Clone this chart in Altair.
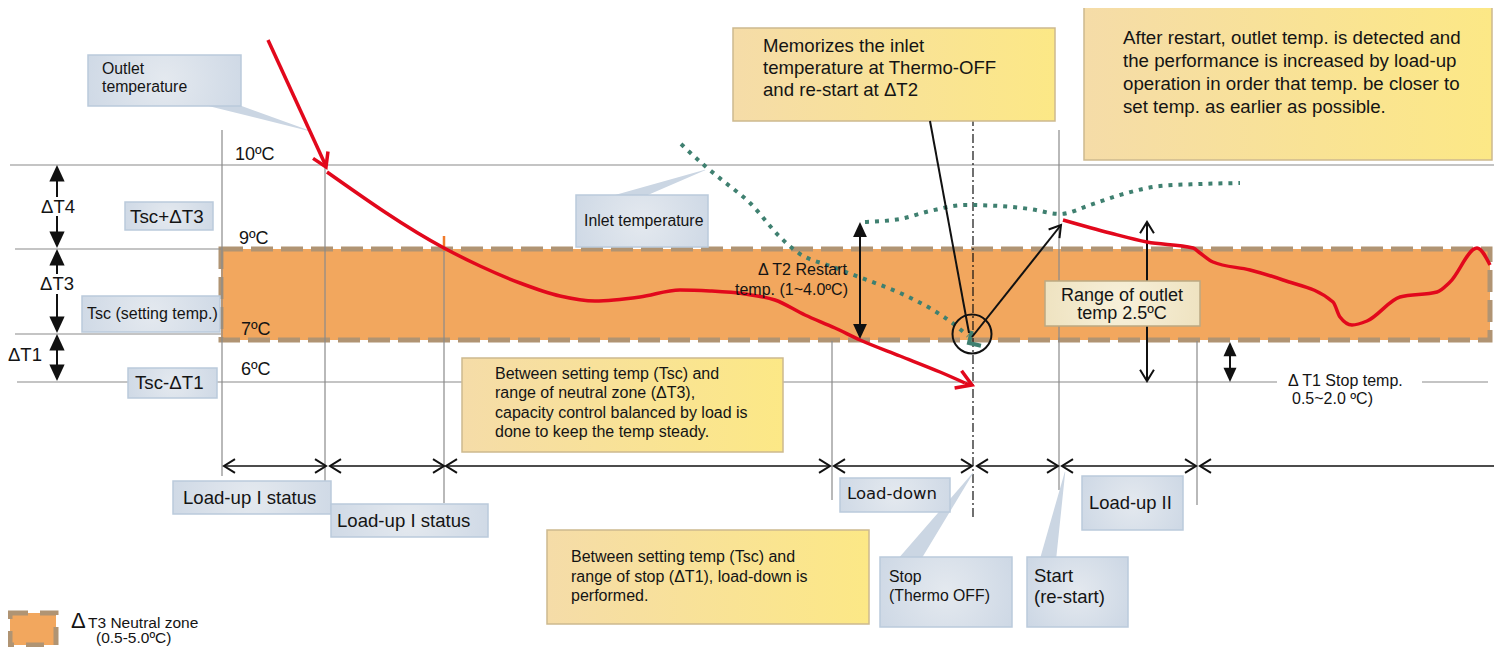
import math
import altair as alt
import pandas as pd

# ---------------------------------------------------------------------------
# Data (units = reference pixels)
# ---------------------------------------------------------------------------
W, H = 1486, 639

# temperature guide lines (10ºC, 9ºC, 7ºC, 6ºC, 6ºC right part)
guide_x1 = [10, 15, 15, 17, 1422]
guide_x2 = [1494, 221, 221, 1277, 1488]
guide_y = [165, 249, 334, 382, 382]

# vertical phase markers
mark_x = [222, 325, 444, 832, 1059, 1197]
mark_y1 = [130, 167, 236, 341, 130, 341]
mark_y2 = [476, 481, 503, 500, 490, 505]

# Thermo-OFF dash-dot line
off_x = [973]
off_y1 = [100]
off_y2 = [520]

# neutral zone band and legend swatch
zone_x1 = [221]
zone_x2 = [1490]
zone_y1 = [249]
zone_y2 = [340]
swatch_x1 = [10]
swatch_x2 = [56]
swatch_y1 = [613]
swatch_y2 = [645]

# blue label boxes
blue_x1 = [88, 125, 82, 128, 576, 173, 331, 840, 1082, 880, 1027]
blue_x2 = [241, 213, 220, 217, 708, 331, 488, 950, 1183, 1012, 1128]
blue_y1 = [55, 202, 296, 368, 195, 481, 504, 478, 476, 557, 557]
blue_y2 = [106, 230, 332, 398, 247, 514, 537, 512, 530, 627, 627]

# callout pointers (base inside box -> tip)
ptr_id = [0, 0, 1, 1, 2, 2, 3, 3]
ptr_i = [0, 1, 0, 1, 0, 1, 0, 1]
ptr_x = [205, 310, 612, 705, 906, 973, 1047, 1065]
ptr_y = [99, 131, 203, 170, 565, 473, 565, 472]
ptr_w = [12, 0.5, 14, 0.5, 20, 0.5, 17, 0.5]

# yellow note boxes
yel_x1 = [733, 1084, 462, 547]
yel_x2 = [1055, 1492, 783, 869]
yel_y1 = [28, 7, 358, 530]
yel_y2 = [121, 160, 452, 624]

# beige "range" box
beige_x1 = [1045]
beige_x2 = [1200]
beige_y1 = [281]
beige_y2 = [326]

# outlet temperature curves (red)
out1_x = [327, 444, 480, 520, 560, 595, 640, 680, 710, 745, 775, 805, 835, 860, 900, 940, 965]
out1_y = [172, 248, 266, 283, 296, 301, 297, 290, 291, 294, 300, 315, 328, 340, 356, 372, 383]
out2_x = [1063, 1110, 1147, 1193, 1200, 1213, 1250, 1283, 1333, 1340, 1352, 1367, 1400, 1437, 1450, 1477, 1490]
out2_y = [220, 233, 242, 248, 253, 262, 270, 280, 302, 317, 325, 321, 297, 292, 282, 248, 265]
# first straight red arrow (start, tip) and the second arrow's tip
red_arrow_x = [268, 326]
red_arrow_y = [40, 167]
red2_tip_x, red2_tip_y = 972, 385

# inlet temperature curves (green dotted)
in1_x = [681, 705, 722, 750, 780, 797, 833, 867, 900, 933, 955, 968]
in1_y = [144, 166, 180, 203, 237, 252, 267, 280, 293, 310, 325, 336]
in2_x = [865, 900, 930, 965, 1000, 1030, 1060, 1090, 1120, 1160, 1200, 1240]
in2_y = [222, 219, 211, 205, 206, 209, 214, 205, 195, 186, 184, 183]

# black straight lines: memorize pointer, restart arrow
blk_x1 = [930, 972]
blk_y1 = [121, 337]
blk_x2 = [969, 1061]
blk_y2 = [333, 225]

# circle at Thermo-OFF point
circ_x = [972]
circ_y = [334]

# time-phase arrows
time_y = 466
time_a = [224, 330, 446, 834, 977, 1062, 1200]
time_b = [326, 444, 830, 972, 1058, 1196, 1494]

# vertical double arrows with filled heads: x, top, bottom, head size
dbl_x = [57, 57, 57, 860, 1230]
dbl_top = [165, 249, 334, 222, 342]
dbl_bot = [248, 333, 381, 339, 382]
dbl_size = [1100, 1100, 1100, 900, 800]
# shafts (with gaps for labels)
shaft_x = [57, 57, 57, 57, 57, 860, 1230]
shaft_y1 = [180, 216, 264, 294, 348, 236, 356]
shaft_y2 = [197, 232, 274, 318, 366, 326, 368]

# range arrow (open heads)
rng_x = [1147]
rng_top = [222]
rng_bot = [381]

# texts (left aligned)
tl_text = ["Outlet", "temperature", "Tsc+ΔT3", "Tsc (setting temp.)", "Tsc-ΔT1",
           "10ºC", "9ºC", "7ºC", "6ºC", "Inlet temperature",
           "Memorizes the inlet", "temperature at Thermo-OFF", "and re-start at ΔT2",
           "After restart, outlet temp. is detected and",
           "the performance is increased  by load-up",
           "operation in order that temp. be closer to",
           "set temp. as earlier as possible.",
           "Between setting temp (Tsc) and", "range of neutral zone (ΔT3),",
           "capacity control balanced by load is", "done to keep the temp steady.",
           "Load-up I status", "Load-up I status", "Load-up II",
           "Between setting temp (Tsc) and", "range of stop (ΔT1), load-down is", "performed.",
           "Stop", "(Thermo OFF)", "Start", "(re-start)",
           "Δ T1 Stop temp.", " 0.5~2.0 ºC)",
           "Δ", "T3 Neutral zone", "(0.5-5.0ºC)", "ΔT1"]
tl_x = [102, 102, 130, 87, 135,
        235, 239, 241, 241, 584,
        763, 763, 763,
        1123, 1123, 1123, 1123,
        495, 495, 495, 495,
        183, 337, 1089,
        571, 571, 571,
        889, 889, 1034, 1034,
        1288, 1292,
        71, 88, 96, 8]
tl_y = [69, 87, 217, 314, 383,
        155, 239, 330, 370, 221,
        46, 68, 90,
        38, 61, 84, 107,
        374, 393, 413, 432,
        498, 521, 503,
        557, 577, 596,
        577, 596, 576, 597,
        381, 399,
        621, 623, 638, 355]
tl_fs = [15.8, 15.8, 18.8, 16, 18.7,
         18, 18, 18, 18, 15.8,
         18.6, 18.6, 18.6,
         18.7, 18.7, 18.7, 18.7,
         16, 16, 16, 16,
         18.6, 18.6, 18.4,
         16, 16, 16,
         15.8, 15.8, 18.5, 18.5,
         16, 16,
         22, 15.5, 15.5, 18.5]

# texts (centered)
tc_text = ["ΔT4", "ΔT3", "Range of outlet", "temp 2.5ºC"]
tc_x = [58, 57, 1122, 1122]
tc_y = [207, 284, 296, 314]
tc_fs = [18.5, 18.5, 18, 18]

# texts (right aligned)
tr_text = ["Δ T2 Restart", "temp. (1~4.0ºC)"]
tr_x = [847, 848]
tr_y = [270, 290]
tr_fs = [16, 16]

# letter-spaced label
ts_text = ["Load-down"]
ts_x = [847]
ts_y = [494]
ts_fs = [16.5]

# ---------------------------------------------------------------------------
XS = alt.Scale(domain=[8, 8 + W], nice=False, zero=False)
YS = alt.Scale(domain=[8, 8 + H], reverse=True, nice=False, zero=False)


def X(f):
    return alt.X(f + ":Q", scale=XS, axis=None)


def Y(f):
    return alt.Y(f + ":Q", scale=YS, axis=None)


def seg_df(x1, y1, x2, y2):
    return pd.DataFrame({"x1": x1, "y1": y1, "x2": x2, "y2": y2})


def rules(df, **kw):
    return alt.Chart(df).mark_rule(**kw).encode(
        x=X("x1"), x2="x2:Q", y=Y("y1"), y2="y2:Q")


def rects(df, **kw):
    return alt.Chart(df).mark_rect(**kw).encode(
        x=X("x1"), x2="x2:Q", y=Y("y1"), y2="y2:Q")


def heads(df, shape, **kw):
    return alt.Chart(df).mark_point(shape=shape, opacity=1, **kw).encode(
        x=X("x"), y=Y("y"),
        angle=alt.Angle("a:Q", scale=None),
        size=alt.Size("sz:Q", scale=None))


def curves(df, **kw):
    return alt.Chart(df).mark_line(**kw).encode(
        x=X("x"), y=Y("y"), detail="s:N", order="i:Q")


def texts(df, align, font="Liberation Sans"):
    return alt.Chart(df).mark_text(
        align=align, baseline="middle", font=font, color="#141414").encode(
        x=X("x"), y=Y("y"), text="t:N", size=alt.Size("fs:Q", scale=None))


def ang(x1, y1, x2, y2):
    return math.degrees(math.atan2(y2 - y1, x2 - x1)) % 360


CHEV = "M-1,-0.62L0,0L-1,0.62"
TRI = "M0,0L-1,-0.46L-1,0.46Z"

blue_fill = alt.RadialGradient(
    gradient="radial",
    stops=[alt.GradientStop(color="#E4E9EF", offset=0),
           alt.GradientStop(color="#C7D3E2", offset=1)],
    x1=0.5, y1=0.5, r1=0, x2=0.5, y2=0.5, r2=0.72)
yel_fill = alt.LinearGradient(
    gradient="linear",
    stops=[alt.GradientStop(color="#F5DCA8", offset=0),
           alt.GradientStop(color="#FCE886", offset=1)],
    x1=0, y1=0, x2=1, y2=0)
beige_fill = alt.RadialGradient(
    gradient="radial",
    stops=[alt.GradientStop(color="#F7F0DA", offset=0),
           alt.GradientStop(color="#EBDDB6", offset=1)],
    x1=0.5, y1=0.5, r1=0, x2=0.5, y2=0.5, r2=0.72)

RED = "#E2081C"
GREEN = "#3F8070"
GRAY = "#8A8A8A"

layers = []

# neutral zone band + legend swatch
layers.append(rects(seg_df(zone_x1, zone_y1, zone_x2, zone_y2),
                    fill="#F2A75E", stroke="#B09473", strokeWidth=5,
                    strokeDash=[22, 8]))
layers.append(rects(seg_df(swatch_x1, swatch_y1, swatch_x2, swatch_y2),
                    fill="#F2A75E", stroke="#B09473", strokeWidth=5,
                    strokeDash=[18, 12]))

# guide lines
layers.append(rules(seg_df(guide_x1, guide_y, guide_x2, guide_y),
                    color=GRAY, strokeWidth=1.2))
layers.append(rules(seg_df(mark_x, mark_y1, mark_x, mark_y2),
                    color=GRAY, strokeWidth=1.2))
layers.append(rules(seg_df(off_x, off_y1, off_x, off_y2),
                    color="#111111", strokeWidth=1.2, strokeDash=[9, 3, 2, 3]))
layers.append(alt.Chart(pd.DataFrame({"x1": [444], "y1": [236], "x2": [444], "y2": [251]}))
              .mark_rule(color="#F07A2A", strokeWidth=2.5)
              .encode(x=X("x1"), x2="x2:Q", y=Y("y1"), y2="y2:Q"))

# time-phase arrows
layers.append(rules(seg_df(time_a, [time_y] * len(time_a), time_b, [time_y] * len(time_b)),
                    color="#111111", strokeWidth=1.5))
th_x, th_a = [], []
for k, (a, b) in enumerate(zip(time_a, time_b)):
    th_x.append(a)
    th_a.append(180)
    if k < len(time_a) - 1:
        th_x.append(b)
        th_a.append(0)
layers.append(heads(pd.DataFrame({"x": th_x, "y": [time_y] * len(th_x), "a": th_a,
                                  "sz": [484] * len(th_x)}),
                    CHEV, filled=False, color="#111111", strokeWidth=2))

# vertical double arrows (filled heads)
layers.append(rules(seg_df(shaft_x, shaft_y1, shaft_x, shaft_y2),
                    color="#111111", strokeWidth=2))
hx, hy, ha, hs = [], [], [], []
for x, t, b, s in zip(dbl_x, dbl_top, dbl_bot, dbl_size):
    hx += [x, x]
    hy += [t, b]
    ha += [270, 90]
    hs += [s, s]
layers.append(heads(pd.DataFrame({"x": hx, "y": hy, "a": ha, "sz": hs}),
                    TRI, filled=True, color="#111111"))

# range arrow (open heads)
layers.append(rules(seg_df(rng_x, rng_top, rng_x, rng_bot),
                    color="#111111", strokeWidth=2))
layers.append(heads(pd.DataFrame({"x": rng_x * 2, "y": rng_top + rng_bot, "a": [270, 90],
                                  "sz": [500, 500]}),
                    CHEV, filled=False, color="#111111", strokeWidth=2))

# callout pointers
layers.append(alt.Chart(pd.DataFrame({"id": ptr_id, "i": ptr_i, "x": ptr_x, "y": ptr_y,
                                      "w": ptr_w}))
              .mark_trail(color="#CBD6E3", opacity=1)
              .encode(x=X("x"), y=Y("y"), detail="id:N", order="i:Q",
                      size=alt.Size("w:Q", scale=None)))

# boxes
layers.append(rects(seg_df(blue_x1, blue_y1, blue_x2, blue_y2),
                    fill=blue_fill, stroke="#BACADB", strokeWidth=1.5))
layers.append(rects(seg_df(yel_x1, yel_y1, yel_x2, yel_y2),
                    fill=yel_fill, stroke="#CDB98E", strokeWidth=1.5))
layers.append(rects(seg_df(beige_x1, beige_y1, beige_x2, beige_y2),
                    fill=beige_fill, stroke="#BCA983", strokeWidth=1.5))

# inlet temperature (green dotted)
in_df = pd.DataFrame({
    "x": in1_x + in2_x, "y": in1_y + in2_y,
    "s": ["a"] * len(in1_x) + ["b"] * len(in2_x),
    "i": list(range(len(in1_x))) + list(range(len(in2_x)))})
layers.append(curves(in_df, color=GREEN, strokeWidth=4, strokeDash=[4, 6],
                     interpolate="monotone"))
layers.append(heads(pd.DataFrame({"x": [969], "y": [343], "a": [148], "sz": [300]}),
                    "M-1,-1L0,0L-1,1", filled=False, color=GREEN, strokeWidth=4))

# outlet temperature (red)
layers.append(rules(seg_df([red_arrow_x[0]], [red_arrow_y[0]],
                           [red_arrow_x[1] - 1], [red_arrow_y[1] - 3]),
                    color=RED, strokeWidth=3.5))
out_df = pd.DataFrame({
    "x": out1_x + out2_x, "y": out1_y + out2_y,
    "s": ["a"] * len(out1_x) + ["b"] * len(out2_x),
    "i": list(range(len(out1_x))) + list(range(len(out2_x)))})
layers.append(curves(out_df, color=RED, strokeWidth=3.5, interpolate="monotone"))
layers.append(heads(pd.DataFrame({
    "x": [red_arrow_x[1], red2_tip_x],
    "y": [red_arrow_y[1], red2_tip_y],
    "a": [ang(red_arrow_x[0], red_arrow_y[0], red_arrow_x[1], red_arrow_y[1]),
          ang(out1_x[-4], out1_y[-4], red2_tip_x, red2_tip_y)],
    "sz": [700, 900]}), CHEV, filled=False, color=RED, strokeWidth=3.5))
layers.append(rules(seg_df([out1_x[-1]], [out1_y[-1]], [red2_tip_x - 2], [red2_tip_y]),
                    color=RED, strokeWidth=3.5))

# black pointer line, restart arrow, circle
layers.append(rules(seg_df(blk_x1, blk_y1, blk_x2, blk_y2),
                    color="#111111", strokeWidth=2))
layers.append(heads(pd.DataFrame({"x": [blk_x2[1]], "y": [blk_y2[1]],
                                  "a": [ang(blk_x1[1], blk_y1[1], blk_x2[1], blk_y2[1])],
                                  "sz": [500]}),
                    CHEV, filled=False, color="#111111", strokeWidth=2))
layers.append(alt.Chart(pd.DataFrame({"x": circ_x, "y": circ_y}))
              .mark_point(shape="circle", size=1521, filled=False, color="#111111",
                          strokeWidth=2, opacity=1)
              .encode(x=X("x"), y=Y("y")))

# texts
layers.append(texts(pd.DataFrame({"t": tl_text, "x": tl_x, "y": tl_y, "fs": tl_fs}), "left"))
layers.append(texts(pd.DataFrame({"t": tc_text, "x": tc_x, "y": tc_y, "fs": tc_fs}), "center"))
layers.append(texts(pd.DataFrame({"t": tr_text, "x": tr_x, "y": tr_y, "fs": tr_fs}), "right"))
layers.append(texts(pd.DataFrame({"t": ts_text, "x": ts_x, "y": ts_y, "fs": ts_fs}), "left",
                    font="DejaVu Sans"))

chart = alt.layer(*layers).properties(
    width=W, height=H, padding=0,
    autosize=alt.AutoSizeParams(type="none"),
    background="white",
).configure_view(stroke=None)

chart.save("out.html", embed_options={"renderer": "svg", "actions": False})
